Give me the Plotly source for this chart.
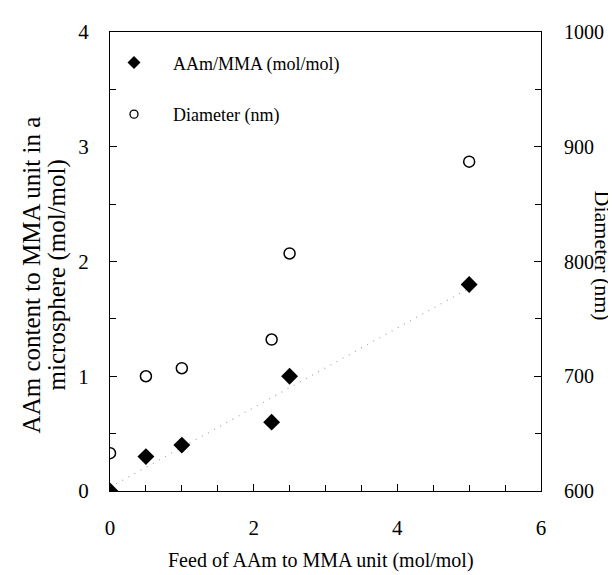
import numpy as np
import plotly.graph_objects as go

# ---- data ----
feed = [0, 0.5, 1.0, 2.25, 2.5, 5.0]               # Feed of AAm to MMA (mol/mol)
aam_content = [0.0, 0.30, 0.40, 0.60, 1.00, 1.80]  # AAm/MMA in microsphere (mol/mol)
diameter = [633, 700, 707, 732, 807, 887]          # Diameter (nm)

x_ticks = [0, 2, 4, 6]
y_left_ticks = [0, 1, 2, 3, 4]
y_right_ticks = [600, 700, 800, 900, 1000]

# linear trend line of AAm content (dotted grey line)
slope, intercept = np.polyfit(feed, aam_content, 1)
trend_x = [0, 5]
trend_y = [intercept + slope * v for v in trend_x]

FONT = "Liberation Serif, Times New Roman, serif"
W, H = 616, 575
L, R, T, B = 102, 83, 21, 92
PW, PH = W - L - R, H - T - B

def px_x(p):
    return (p - L) / PW

def px_y(p):
    return (H - B - p) / PH

fig = go.Figure()

fig.add_trace(go.Scatter(
    x=trend_x, y=trend_y, mode="lines",
    line=dict(color="#a8a8a8", width=1.2, dash="1px,6px"),
    showlegend=False, hoverinfo="skip"))

fig.add_trace(go.Scatter(
    x=feed, y=aam_content, mode="markers",
    marker=dict(symbol="diamond", size=13, color="black"),
    showlegend=False))

fig.add_trace(go.Scatter(
    x=feed, y=diameter, mode="markers", yaxis="y2",
    marker=dict(symbol="circle-open", size=11, color="black", line=dict(width=1.5)),
    showlegend=False))

# legend entries (smaller symbols as in the reference)
fig.add_trace(go.Scatter(
    x=[None], y=[None], mode="markers", name="AAm/MMA (mol/mol)",
    marker=dict(symbol="diamond", size=10, color="black"), legend="legend"))
fig.add_trace(go.Scatter(
    x=[None], y=[None], mode="markers", name="Diameter (nm)",
    marker=dict(symbol="circle-open", size=8, color="black", line=dict(width=1.3)),
    legend="legend2"))

tickfont = dict(family=FONT, size=21, color="black")
axis_common = dict(showline=True, linecolor="black", linewidth=1.2,
                   ticks="inside", tickcolor="black", tickwidth=1.2,
                   showgrid=False, zeroline=False)

legfont = dict(family=FONT, size=18, color="black")

fig.update_layout(
    width=W, height=H,
    margin=dict(l=L, r=R, t=T, b=B),
    paper_bgcolor="white", plot_bgcolor="white",
    font=dict(family=FONT, size=20, color="black"),
    xaxis=dict(range=[0, 6], tickvals=x_ticks, ticklen=7, mirror=True,
               minor=dict(dtick=0.5, ticks="inside", ticklen=6, tickcolor="black"),
               ticklabelstandoff=18, tickfont=tickfont, **axis_common),
    yaxis=dict(range=[0, 4], tickvals=y_left_ticks, ticklen=7,
               minor=dict(dtick=0.5, ticks="inside", ticklen=6, tickcolor="black"),
               ticklabelstandoff=16, tickfont=tickfont, **axis_common),
    yaxis2=dict(range=[600, 1000], tickvals=y_right_ticks, ticklen=7,
                overlaying="y", side="right",
                minor=dict(dtick=50, ticks="inside", ticklen=6, tickcolor="black"),
                ticklabelstandoff=18, tickfont=dict(family=FONT, size=20, color="black"),
                **axis_common),
    legend=dict(x=px_x(87), y=px_y(52), xanchor="left", yanchor="middle",
                bgcolor="rgba(0,0,0,0)", borderwidth=0, font=legfont, itemwidth=68),
    legend2=dict(x=px_x(87), y=px_y(104), xanchor="left", yanchor="middle",
                 bgcolor="rgba(0,0,0,0)", borderwidth=0, font=legfont, itemwidth=68),
    annotations=[
        dict(text="AAm content to MMA unit in a",
             xref="paper", yref="paper", x=px_x(23), y=px_y(266),
             xanchor="center", yanchor="middle", textangle=-90, showarrow=False,
             font=dict(family=FONT, size=25, color="black")),
        dict(text="microsphere (mol/mol)",
             xref="paper", yref="paper", x=px_x(49), y=px_y(266),
             xanchor="center", yanchor="middle", textangle=-90, showarrow=False,
             font=dict(family=FONT, size=25, color="black")),
        dict(text="Diameter (nm)",
             xref="paper", yref="paper", x=px_x(594), y=px_y(246),
             xanchor="center", yanchor="middle", textangle=90, showarrow=False,
             font=dict(family=FONT, size=22, color="black")),
        dict(text="Feed of AAm to MMA unit (mol/mol)",
             xref="paper", yref="paper", x=0.49, y=px_y(553),
             xanchor="center", yanchor="middle", showarrow=False,
             font=dict(family=FONT, size=20, color="black")),
    ],
)

fig.write_html("out.html")
